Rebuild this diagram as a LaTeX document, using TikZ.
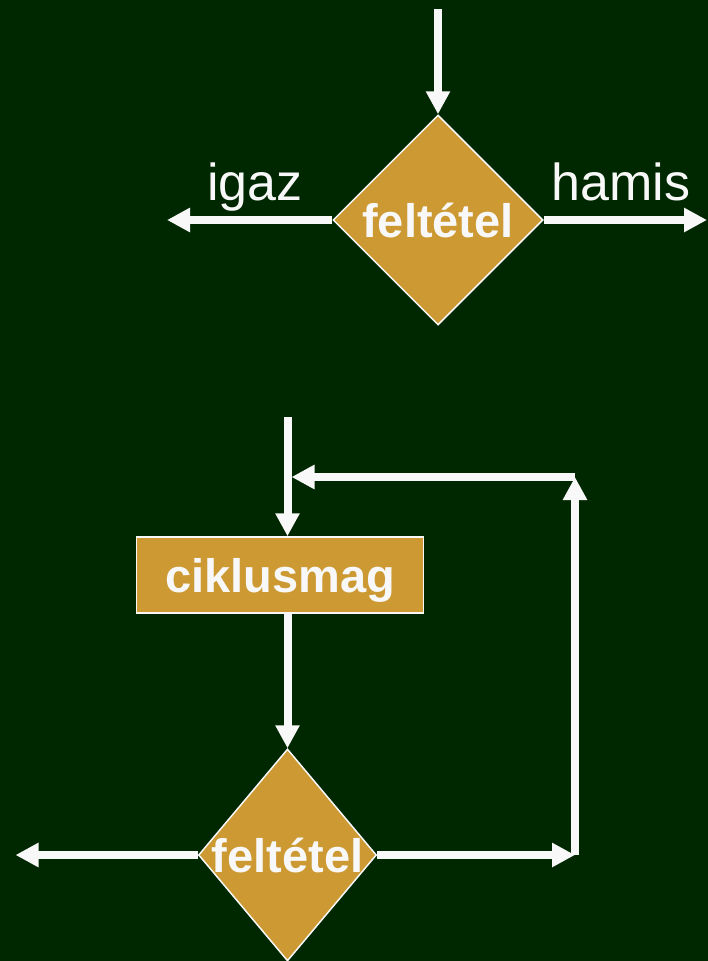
\documentclass[tikz,border=0pt]{standalone}
\usepackage{fontspec}
\setmainfont{Liberation Sans}
\usetikzlibrary{shapes.geometric,arrows.meta}
\definecolor{board}{HTML}{002800}
\definecolor{gold}{HTML}{CC9933}
\definecolor{chalk}{HTML}{F8F8F8}
\tikzset{>={Triangle[width=23pt,length=23pt]}}

\begin{document}
\begin{tikzpicture}[x=1pt,y=-1pt,
	flow/.style={->,draw=chalk,line width=8pt},
	cond/.style={diamond,fill=gold,draw=chalk,line width=1.5pt,inner sep=0pt},
	condtext/.style={text=chalk,font=\fontsize{47}{56}\selectfont\bfseries},
	body/.style={rectangle,fill=gold,draw=chalk,line width=1.5pt,minimum width=287pt,minimum height=76pt,text depth=0pt,text=chalk,font=\fontsize{47}{56}\selectfont\bfseries},
	answer/.style={text=chalk,font=\fontsize{52}{62}\selectfont,anchor=base}]
		\useasboundingbox (0,0) rectangle (708,961);
		\fill[board] (0,0) rectangle (708,961);
		% elagazas
		\coordinate (in1) at (438,9);
		\coordinate (yes1) at (167,220);
		\coordinate (no1) at (707,220);
		\node[cond,minimum width=210pt,minimum height=210pt,label={[condtext]center:feltétel}] (cond1) at (438,220) {};
		\draw[flow] (in1) -- (cond1.north);
		\draw[flow] (cond1.west) -- (yes1);
		\draw[flow] (cond1.east) -- (no1);
		\node[answer] (igaz) at (255,200) {igaz};
		\node[answer] (hamis) at (621,200) {hamis};
		% hatultesztelo ciklus
		\coordinate (in2) at (287.5,417);
		\coordinate (out2) at (15.5,855);
		\coordinate (turn1) at (575,855);
		\coordinate (turn2) at (575,477);
		\coordinate (join) at (291.5,477);
		\node[body] (mag) at (280,575) {ciklusmag};
		\node[cond,minimum width=178pt,minimum height=212pt,label={[condtext]center:feltétel}] (cond2) at (287.5,855) {};
		\draw[flow] (in2) -- (in2 |- mag.north);
		\draw[flow] (in2 |- mag.south) -- (cond2.north);
		\draw[flow] (cond2.west) -- (out2);
		\draw[flow] (cond2.east) -- (turn1);
		\draw[flow] (turn1) -- (turn2);
		\draw[flow] (turn2) -- (join);
		
\end{tikzpicture}
\end{document}
